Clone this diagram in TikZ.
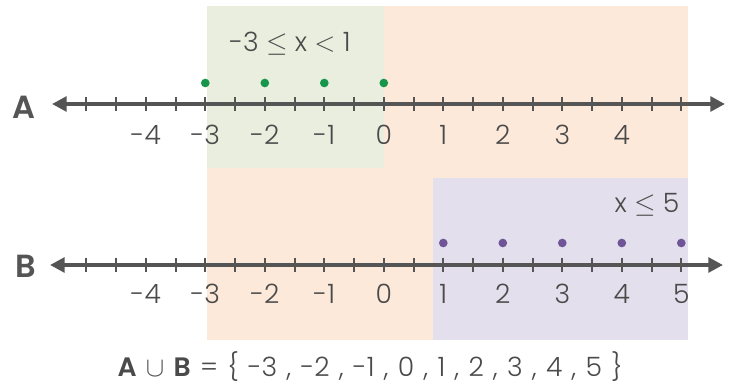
\documentclass[tikz,border=0pt]{standalone}
\usepackage{fontspec}
\setmainfont{Poppins Light}[BoldFont={Poppins SemiBold}]
\usepackage{tikz}
\usetikzlibrary{arrows.meta}
\usepackage{xcolor}
\definecolor{axisgray}{HTML}{555555}
\definecolor{txtgray}{HTML}{4A4A4A}
\definecolor{setA}{HTML}{E9EEDF}
\definecolor{setB}{HTML}{E4DFEC}
\definecolor{unionbg}{HTML}{FDE9DA}
\definecolor{dotA}{HTML}{17954A}
\definecolor{dotB}{HTML}{6F5497}

\begin{document}
\begin{tikzpicture}[x=0.75pt,y=-0.75pt,>={Triangle[length=11pt,width=11pt]},
  axis/.style={draw=axisgray,line width=3pt},
  tick/.style={draw=axisgray,line width=1.5pt},
  num/.style={text=txtgray,font=\fontsize{20}{24}\selectfont,inner sep=0pt},
  setname/.style={text=axisgray,font=\fontsize{24}{28}\selectfont\bfseries,inner sep=0pt},
  dot/.style={circle,inner sep=0pt,minimum size=6.5pt}]
\useasboundingbox (0,0) rectangle (733,388);
% shaded regions
\fill[unionbg] (207,6) rectangle (688,340);
\fill[setA] (207,6) rectangle (384,168);
\fill[setB] (433,178) rectangle (688,340);
% line A
\coordinate (Al) at (52,104);
\coordinate (Ar) at (725,104);
\draw[axis,<->] (Al) -- (Ar);
\foreach \t in {-5,-4.5,...,5}
  \draw[tick] ({383.8+59.5*\t},97) -- ++(0,14);
\foreach \n in {-4,...,4}
  \node[num] (a\n) at ({383.8+59.5*\n},135) {\n};
\foreach \n in {-3,...,0}
  \node[dot,fill=dotA] (pa\n) at ({383.8+59.5*\n},83) {};
\node[setname] (A) at (24,107) {A};
\node[num] (condA) at (290,44) {-3 $\leq$ x $<$ 1};
% line B
\coordinate (Bl) at (50,265);
\coordinate (Br) at (723,265);
\draw[axis,<->] (Bl) -- (Br);
\foreach \t in {-5,-4.5,...,5}
  \draw[tick] ({383.8+59.5*\t},258) -- ++(0,14);
\foreach \n in {-4,...,5}
  \node[num] (b\n) at ({383.8+59.5*\n},294) {\n};
\foreach \n in {1,...,5}
  \node[dot,fill=dotB] (pb\n) at ({383.8+59.5*\n},243) {};
\node[setname] (B) at (26,266) {B};
\node[num] (condB) at (647,205) {x $\leq$ 5};
% union
\node[num] (union) at (370,367) {\spaceskip=7pt {\bfseries A} $\cup$ {\bfseries B} = \{ -3 , -2 , -1 , 0 , 1 , 2 , 3 , 4 , 5 \}};
\end{tikzpicture}
\end{document}
